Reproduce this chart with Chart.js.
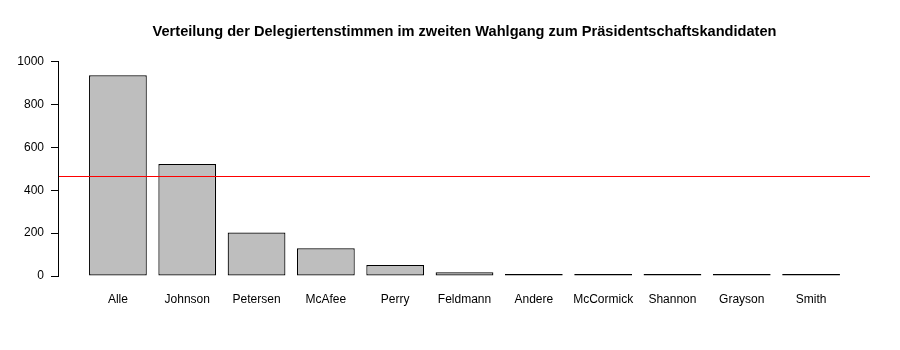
<!DOCTYPE html>
<html lang="de">
<head>
  <meta charset="UTF-8">
  <title>Delegiertenstimmen zweiter Wahlgang</title>
  <script src="https://cdn.jsdelivr.net/npm/chart.js"></script>
  <style>
    body { margin: 0; background: #fff; }
    #chart { display: block; }
  </style>
</head>
<body>
<canvas id="chart" width="900" height="350"></canvas>

<script>
const kandidaten = ["Alle", "Johnson", "Petersen", "McAfee", "Perry", "Feldmann",
                    "Andere", "McCormick", "Shannon", "Grayson", "Smith"];
const stimmen = [936, 522, 203, 129, 51, 17, 5, 3, 2, 2, 2];
const mehrheit = 468;   // halbe Stimmenzahl, rote Linie
const yTicks = [0, 200, 400, 600, 800, 1000];

// Balkenmitten wie bei barplot(): Breite 1, Abstand 0.2
const barMitte = kandidaten.map((k, i) => 0.7 + 1.2 * i);

const schrift = "'Liberation Sans', Arial, sans-serif";

// y-Achsenlinie nur von 0 bis 1000, rote Mehrheitslinie über den Balken
const extras = {
  id: "extras",
  afterDraw(chart) {
    const { ctx, chartArea, scales } = chart;
    const y = scales.y;
    const xAchse = Math.round(chartArea.left) - 1;
    const yOben = Math.round(y.getPixelForValue(yTicks[yTicks.length - 1]));
    const yUnten = Math.round(y.getPixelForValue(yTicks[0]));
    ctx.save();
    ctx.fillStyle = "#000";
    ctx.fillRect(xAchse, yOben, 1, yUnten - yOben + 1);

    const ym = Math.round(y.getPixelForValue(mehrheit));
    ctx.fillStyle = "#ff0000";
    ctx.fillRect(chartArea.left, ym, chartArea.right - chartArea.left, 1);
    ctx.restore();
  }
};

new Chart(document.getElementById("chart"), {
  type: "bar",
  data: {
    datasets: [{
      data: stimmen.map((v, i) => ({ x: barMitte[i], y: v })),
      backgroundColor: "#bebebe",
      borderColor: "#000",
      borderWidth: 1.2,
      borderSkipped: false,
      minBarLength: 2,
      inflateAmount: 0,
      categoryPercentage: 1,
      barPercentage: 1 / 1.2
    }]
  },
  options: {
    responsive: false,
    animation: false,
    layout: { padding: { left: 0, right: 30, top: 0, bottom: 37 } },
    plugins: {
      legend: { display: false },
      tooltip: { enabled: false },
      title: {
        display: true,
        fullSize: false,
        text: "Verteilung der Delegiertenstimmen im zweiten Wahlgang zum Präsidentschaftskandidaten",
        color: "#000",
        font: { family: schrift, size: 14.6, weight: "bold" },
        padding: { top: 23, bottom: 12.48 }
      }
    },
    scales: {
      x: {
        type: "linear",
        offset: false,
        min: -0.32,
        max: 13.72,
        afterFit(scale) { scale.height = 28; },
        grid: { display: false, drawTicks: false },
        border: { display: false },
        afterBuildTicks(scale) {
          scale.ticks = barMitte.map(v => ({ value: v }));
        },
        ticks: {
          autoSkip: false,
          maxRotation: 0,
          padding: 7,
          color: "#000",
          font: { family: schrift, size: 12 },
          callback: (v, i) => kandidaten[i]
        }
      },
      y: {
        min: -41.97,
        max: 1040,
        afterFit(scale) { scale.width = 59; },
        afterBuildTicks(scale) {
          scale.ticks = yTicks.map(v => ({ value: v }));
        },
        grid: {
          drawOnChartArea: false,
          drawTicks: true,
          tickLength: 8,
          color: "#000"
        },
        border: { display: false },
        ticks: {
          padding: 7,
          color: "#000",
          font: { family: schrift, size: 12 },
          callback: v => String(v)
        }
      }
    }
  },
  plugins: [extras]
});
</script>
</body>
</html>
